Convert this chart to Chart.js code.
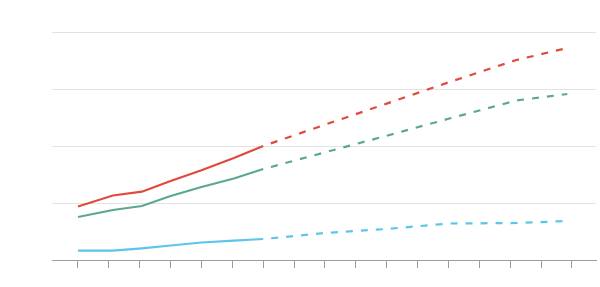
<!DOCTYPE html>
<html>
<head>
<meta charset="utf-8">
<style>
  html, body { margin: 0; padding: 0; background: #ffffff; }
  #wrap { width: 600px; height: 287px; }
</style>
<script src="https://cdn.jsdelivr.net/npm/chart.js@4/dist/chart.umd.min.js"></script>
</head>
<body>
<div id="wrap"><canvas id="c" width="600" height="287"></canvas></div>
<script>
// Data (x positions along the time axis, y values in grid units)
const xPositions = [0, 1.13, 2.07, 3, 4, 5.05, 6, 8, 10, 12, 14.2, 15.85];
const redValues   = [0.939, 1.132, 1.198, 1.386, 1.575, 1.789, 2.0, 2.374, 2.744, 3.116, 3.509, 3.719];
const greenValues = [0.754, 0.877, 0.947, 1.123, 1.281, 1.43, 1.596, 1.889, 2.18, 2.477, 2.798, 2.912];
const blueValues  = [0.163, 0.163, 0.205, 0.254, 0.307, 0.339, 0.368, 0.474, 0.544, 0.640, 0.649, 0.684];
const lastActualIndex = 6;
const xTickValues = [0, 1, 2, 3, 4, 5, 6, 7, 8, 9, 10, 11, 12, 13, 14, 15, 16];
const yTickValues = [0, 1, 2, 3, 4];

function toPoints(vals) {
  return vals.map((v, i) => ({ x: xPositions[i], y: v }));
}
const dashSeg = {
  borderDash: ctx => (ctx.p0DataIndex >= lastActualIndex ? [7, 8] : undefined),
  borderDashOffset: ctx => (ctx.p0DataIndex >= lastActualIndex ? 7 : undefined)
};
function series(vals, color) {
  return {
    data: toPoints(vals),
    borderColor: color,
    backgroundColor: color,
    borderWidth: 2.2,
    pointRadius: 0,
    pointHoverRadius: 0,
    tension: 0,
    fill: false,
    segment: dashSeg
  };
}

new Chart(document.getElementById('c'), {
  type: 'line',
  data: {
    datasets: [
      series(redValues, '#df4a3c'),
      series(greenValues, '#5ba88f'),
      series(blueValues, '#5cc6ea')
    ]
  },
  options: {
    responsive: false,
    animation: false,
    layout: { padding: { top: 32, right: 4, left: 0, bottom: 0 } },
    plugins: { legend: { display: false }, tooltip: { enabled: false } },
    scales: {
      x: {
        type: 'linear',
        min: -0.842,
        max: 16.78,
        afterBuildTicks: s => { s.ticks = xTickValues.map(v => ({ value: v })); },
        afterFit: s => { s.height = 27; },
        ticks: { callback: () => '', autoSkip: false, maxRotation: 0, padding: 0, font: { size: 1 } },
        grid: { drawOnChartArea: false, drawTicks: true, tickLength: 8, color: '#9d9d9d', lineWidth: 1 },
        border: { display: true, color: '#9d9d9d', width: 1 }
      },
      y: {
        min: 0,
        max: 4,
        afterBuildTicks: s => { s.ticks = yTickValues.map(v => ({ value: v })); },
        afterFit: s => { s.width = 52; },
        ticks: { display: false },
        grid: { drawTicks: false, color: '#e3e3e3', lineWidth: 1 },
        border: { display: false }
      }
    }
  }
});
</script>
</body>
</html>
